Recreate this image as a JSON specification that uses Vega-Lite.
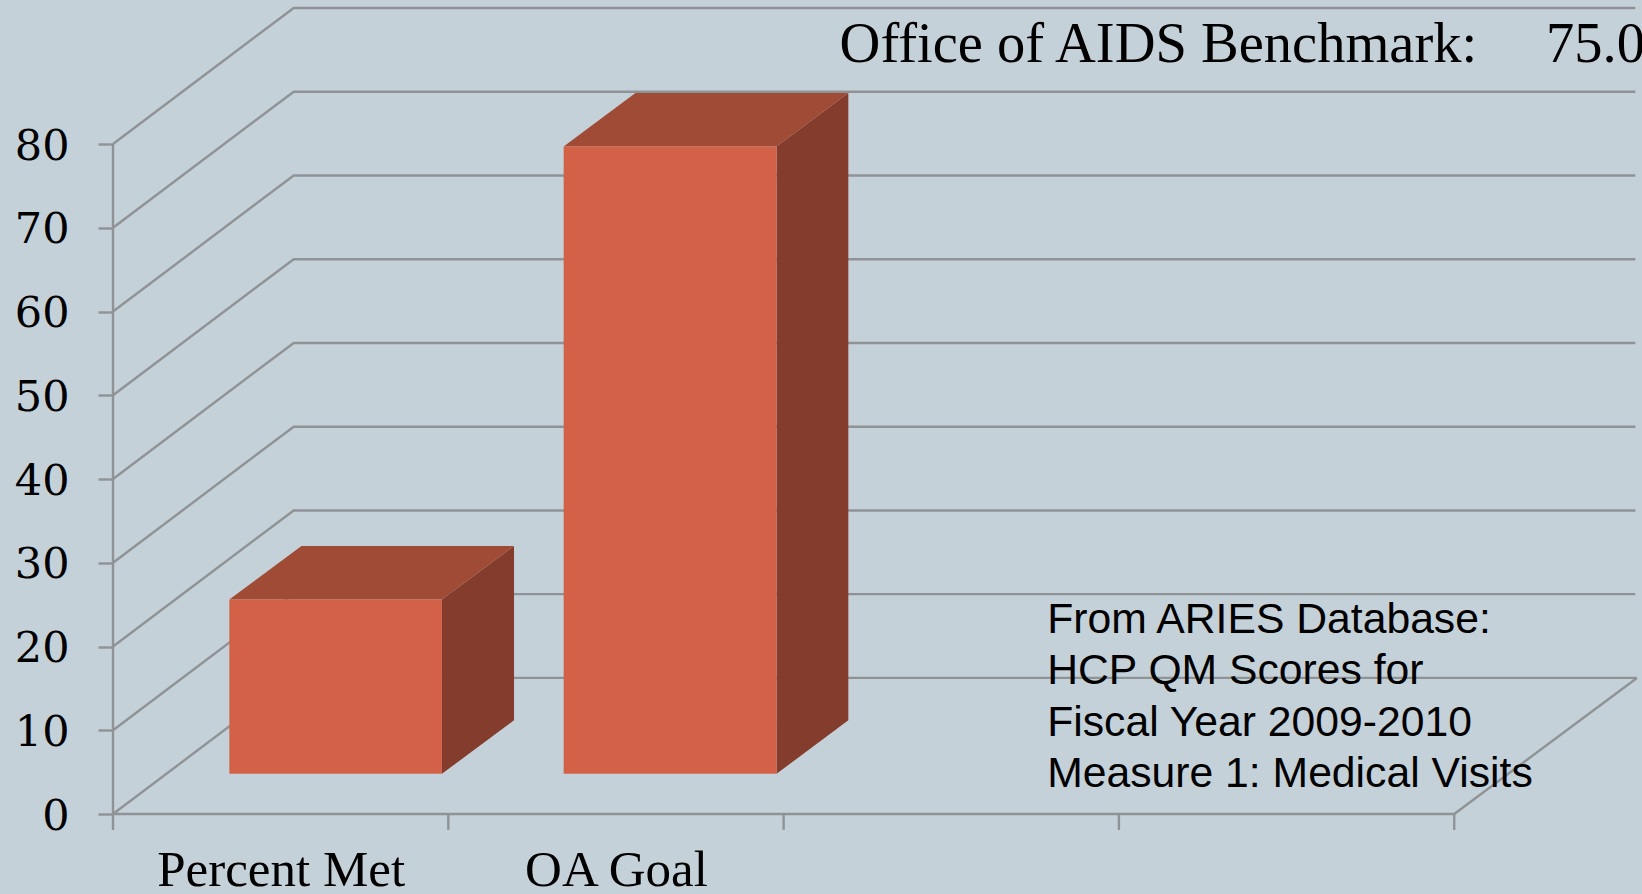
{"$schema":"https://vega.github.io/schema/vega-lite/v6.json","width":1529,"height":814,"autosize":"none","padding":{"left":113,"top":0,"right":0,"bottom":80},"background":"#c5d1d8","config":{"view":{"stroke":null}},"encoding":{"x":{"field":"x","type":"quantitative","scale":{"domain":[0,4.56],"nice":false,"zero":false},"axis":{"title":null,"grid":false,"domain":false,"ticks":false,"values":[0.5,1.5],"labelExpr":"datum.value==0.5?'Percent Met':'OA Goal'","labelFont":"Liberation Serif","labelFontSize":51,"labelColor":"#000","labelPadding":31,"labelBaseline":"top","labelFlush":false,"labelOverlap":false,"labelLimit":0}},"y":{"field":"y","type":"quantitative","scale":{"domain":[0,97.2],"nice":false,"zero":false},"axis":{"title":null,"grid":false,"domain":false,"values":[0,10,20,30,40,50,60,70,80],"tickSize":15,"tickColor":"#8f9396","tickWidth":2.4,"labelFont":"DejaVu Serif","labelFontSize":43,"labelColor":"#000","labelPadding":29,"labelOffset":2,"labelFlush":false,"labelOverlap":false}}},"layer":[{"data":{"values":[{"g":0,"x":0,"y":0},{"g":0,"x":0.539,"y":16.25},{"g":0,"x":4.545,"y":16.25},{"g":10,"x":0,"y":10},{"g":10,"x":0.539,"y":26.25},{"g":10,"x":4.54,"y":26.25},{"g":20,"x":0,"y":20},{"g":20,"x":0.539,"y":36.25},{"g":20,"x":4.54,"y":36.25},{"g":30,"x":0,"y":30},{"g":30,"x":0.539,"y":46.25},{"g":30,"x":4.54,"y":46.25},{"g":40,"x":0,"y":40},{"g":40,"x":0.539,"y":56.25},{"g":40,"x":4.54,"y":56.25},{"g":50,"x":0,"y":50},{"g":50,"x":0.539,"y":66.25},{"g":50,"x":4.54,"y":66.25},{"g":60,"x":0,"y":60},{"g":60,"x":0.539,"y":76.25},{"g":60,"x":4.54,"y":76.25},{"g":70,"x":0,"y":70},{"g":70,"x":0.539,"y":86.25},{"g":70,"x":4.54,"y":86.25},{"g":80,"x":0,"y":80},{"g":80,"x":0.539,"y":96.25},{"g":80,"x":4.54,"y":96.25},{"g":"floor","x":0,"y":0},{"g":"floor","x":4,"y":0},{"g":"floor","x":4.545,"y":16.25}]},"mark":{"type":"line","stroke":"#8f9396","strokeWidth":2.4,"interpolate":"linear"},"encoding":{"detail":{"field":"g"}}},{"data":{"values":[{"x":0,"y":0,"y2":80},{"x":0,"y":-1.9,"y2":0},{"x":1,"y":-1.9,"y2":0},{"x":2,"y":-1.9,"y2":0},{"x":3,"y":-1.9,"y2":0},{"x":4,"y":-1.9,"y2":0}]},"mark":{"type":"rule","stroke":"#8f9396","strokeWidth":2.4},"encoding":{"y2":{"field":"y2"}}},{"data":{"values":[{"bar":"Percent Met","x":0.981,"y":4.8,"y2":25.6},{"bar":"Percent Met","x":1.196,"y":11.2,"y2":32},{"bar":"OA Goal","x":1.979,"y":4.8,"y2":79.7},{"bar":"OA Goal","x":2.193,"y":11.2,"y2":86.1}]},"mark":{"type":"area","color":"#843c2c","interpolate":"linear"},"encoding":{"y2":{"field":"y2"},"detail":{"field":"bar"}}},{"data":{"values":[{"bar":"Percent Met","x":0.347,"x2":0.981,"y":25.6},{"bar":"Percent Met","x":0.562,"x2":1.196,"y":32},{"bar":"OA Goal","x":1.344,"x2":1.979,"y":79.7},{"bar":"OA Goal","x":1.558,"x2":2.193,"y":86.1}]},"mark":{"type":"area","orient":"horizontal","color":"#9f4b35","interpolate":"linear"},"encoding":{"x2":{"field":"x2"},"detail":{"field":"bar"}}},{"data":{"values":[{"bar":"Percent Met","x":0.347,"x2":0.981,"y":4.8,"y2":25.6},{"bar":"OA Goal","x":1.344,"x2":1.979,"y":4.8,"y2":79.7}]},"mark":{"type":"rect","color":"#d26148"},"encoding":{"x2":{"field":"x2"},"y2":{"field":"y2"}}},{"data":{"values":[{"t":"Office of AIDS Benchmark:","x":2.167,"y":89.75},{"t":"75.0","x":4.274,"y":89.75}]},"mark":{"type":"text","align":"left","baseline":"alphabetic","font":"Liberation Serif","fontSize":56.5,"color":"#000"},"encoding":{"text":{"field":"t"}}},{"data":{"values":[{"t":"From ARIES Database:","x":2.786,"y":21.6},{"t":"HCP QM Scores for","x":2.786,"y":15.5},{"t":"Fiscal Year 2009-2010","x":2.786,"y":9.3},{"t":"Measure 1: Medical Visits","x":2.786,"y":3.2}]},"mark":{"type":"text","align":"left","baseline":"alphabetic","font":"Liberation Sans","fontSize":42.7,"color":"#000"},"encoding":{"text":{"field":"t"}}}]}
